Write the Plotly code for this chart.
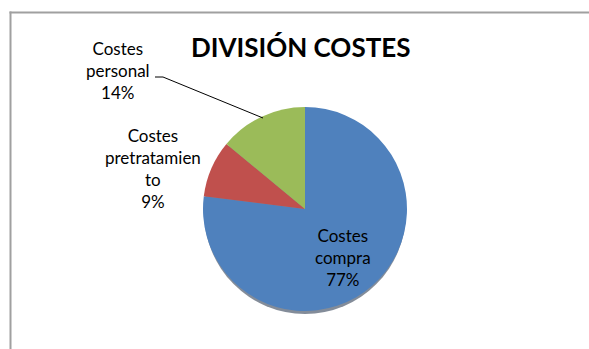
import plotly.graph_objects as go

# Cost breakdown
categories = ["Costes compra", "Costes pretratamiento", "Costes personal"]
shares = [77, 9, 14]
label_lines = [["Costes", "compra"], ["Costes", "pretratamien", "to"], ["Costes", "personal"]]
colors = ["#4F81BD", "#C0504D", "#9BBB59"]
title_text = "DIVISIÓN COSTES"

W, H = 589, 349
FONT = "Lato"


def px(x):
    return x / W


def py(y):
    return 1 - y / H


cx, cy, r = 305, 209, 102

fig = go.Figure()

fig.add_trace(go.Pie(
    labels=categories,
    values=shares,
    sort=False,
    direction="clockwise",
    rotation=0,
    marker=dict(colors=colors, line=dict(width=0)),
    textinfo="none",
    hoverinfo="label+percent",
    showlegend=False,
    domain=dict(x=[px(cx - r), px(cx + r)], y=[py(cy + r), py(cy - r)]),
))

total = sum(shares)


def label_text(i):
    pct = round(100 * shares[i] / total)
    return "<br>".join(label_lines[i] + [f"{pct}%"])


# label anchor points (pixel centres)
label_pos = [(343, 257), (153, 169), (118, 70)]

annotations = [
    dict(text=title_text, x=px(300), y=py(47), xref="paper", yref="paper",
         showarrow=False, xanchor="center", yanchor="middle",
         font=dict(family=FONT, size=26, color="#000000", weight="bold")),
]
for i, (lx, ly) in enumerate(label_pos):
    annotations.append(dict(
        text=label_text(i), x=px(lx), y=py(ly), xref="paper", yref="paper",
        showarrow=False, xanchor="center", yanchor="middle", align="center",
        font=dict(family=FONT, size=17, color="#000000"),
    ))

shapes = [
    # chart area border: left edge and top edge
    dict(type="line", xref="paper", yref="paper",
         x0=px(10.5), x1=px(10.5), y0=0, y1=py(11.5),
         line=dict(color="#A0A0A0", width=2), layer="below"),
    dict(type="line", xref="paper", yref="paper",
         x0=px(9.5), x1=1, y0=py(12.5), y1=py(12.5),
         line=dict(color="#A0A0A0", width=2), layer="below"),
    # soft shadow under the pie
    dict(type="circle", xref="paper", yref="paper",
         x0=px(cx - r + 1), x1=px(cx + r - 1), y0=py(cy + r + 3), y1=py(cy - r + 3),
         line=dict(width=0), fillcolor="rgba(30,45,70,0.55)", layer="below"),
    # leader line for the "personal" label
    dict(type="path", xref="paper", yref="paper",
         path=f"M {px(155)},{py(77)} L {px(163)},{py(77)} L {px(263)},{py(118)}",
         line=dict(color="#000000", width=1)),
]

fig.update_layout(
    width=W, height=H,
    margin=dict(l=0, r=0, t=0, b=0),
    paper_bgcolor="#FFFFFF",
    plot_bgcolor="#FFFFFF",
    annotations=annotations,
    shapes=shapes,
    showlegend=False,
)

fig.write_html("out.html", config={"displayModeBar": False})
